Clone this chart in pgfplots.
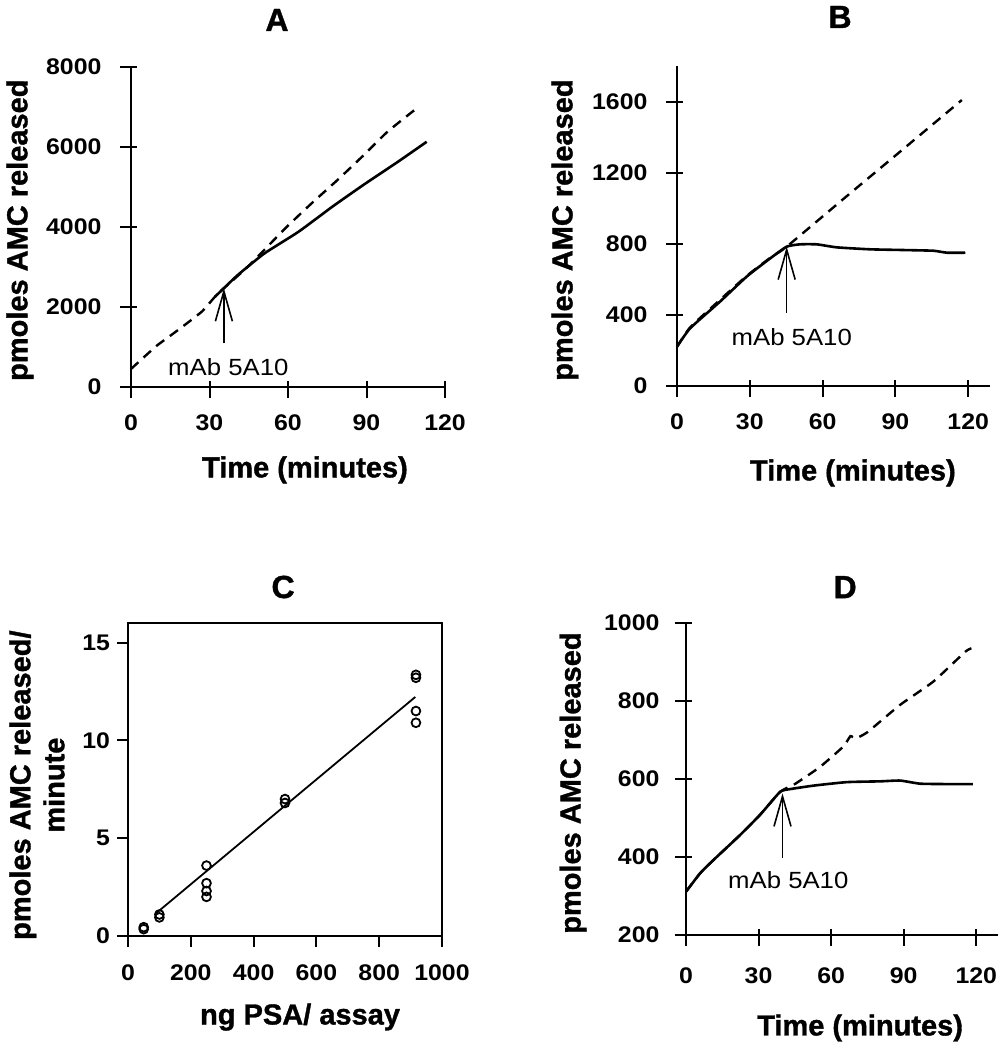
\documentclass[border=0pt]{standalone}
\usepackage{fontspec}
\setmainfont{Liberation Sans}
\newfontfamily\tickf[FakeStretch=1.1]{Liberation Sans}
\newfontfamily\labf[FakeBold=1.2]{Liberation Sans}
\usepackage{pgfplots}
\pgfplotsset{compat=1.18}
\usetikzlibrary{arrows.meta}
\pgfplotsset{
  common/.style={
    scale only axis, anchor=south west,
    tick align=outside, major tick length=5.5pt,
    axis line style={line width=1pt,-},
    tick style={line width=1pt,black},
    scaled ticks=false,
    /pgf/number format/1000 sep={},
    /pgf/number format/assume math mode=true,
    tick label style={font=\tickf\bfseries\fontsize{11.3}{13}\selectfont},
    label style={font=\labf\bfseries\fontsize{14.5}{17}\selectfont, anchor=center},
    title style={font=\labf\bfseries\fontsize{16}{19}\selectfont, anchor=center},
    every axis title shift=0pt,
    clip=false,
  },
  lineaxis/.style={common, axis lines=left,
    every outer x axis line/.append style={-},
    every outer y axis line/.append style={-},
    yticklabel style={xshift=-8.5pt},
    xticklabel style={yshift=-7.5pt}},
}
\tikzset{
  solidc/.style={black, line width=1.3pt, smooth, tension=0.3},
  dashc/.style={black, line width=1.2pt, dash pattern=on 5pt off 3.5pt, smooth, tension=0.3},
  arr/.style={black, line width=0.8pt, -{Straight Barb[length=15pt,width=8.5pt,line width=0.8pt]}},
  mab/.style={font=\tickf\fontsize{11.7}{14}\selectfont, anchor=center},
  tk/.style={black, line width=1pt},
}
\begin{document}
\begin{tikzpicture}
\useasboundingbox (0,0) rectangle (499pt,525pt);
% ---------------- A ----------------
\begin{axis}[lineaxis, at={(65.5pt,331.5pt)}, width=157pt, height=160pt,
  xmin=0, xmax=120, ymin=0, ymax=8000,
  xtick={0,30,60,90,120}, ytick={0,2000,4000,6000,8000},
  title={A}, title style={at={(axis description cs:0.465,1.147)}},
  xlabel={Time (minutes)}, xlabel style={at={(axis description cs:0.554,-0.259)}},
  ylabel={pmoles AMC released}, ylabel style={at={(axis description cs:-0.354,0.49)}},
]
\addplot[solidc] coordinates {(32,2250) (35.5,2470) (41,2810) (51,3340) (64,3880) (77,4510) (89,5060) (102,5630) (113,6130)};
\addplot[dashc] coordinates {(0,450) (4,690) (10,1040) (18,1425) (27,1880) (32,2250) (35.5,2470) (41,2790) (45.5,3060) (51,3430) (59,3970) (69,4590) (79,5180) (89,5800) (98,6380) (110,7010)};
\draw[arr] (axis cs:35.5,1090) -- (axis cs:35.5,2467);
\node[mab] at (axis cs:37.2,508) {mAb 5A10};
\pgfplotsinvokeforeach{0,30,60,90,120}{\draw[tk] (axis cs:#1,0) -- (axis cs:#1,-275);}
\pgfplotsinvokeforeach{0,2000,4000,6000,8000}{\draw[tk] (axis cs:0,#1) -- (axis cs:-4.2,#1);}
\end{axis}
% ---------------- B ----------------
\begin{axis}[lineaxis, at={(338.5pt,332pt)}, width=156.5pt, height=159.75pt,
  xmin=0, xmax=129, ymin=0, ymax=1800,
  xtick={0,30,60,90,120}, ytick={0,400,800,1200,1600},
  title={B}, title style={at={(axis description cs:0.521,1.155)}},
  xlabel={Time (minutes)}, xlabel style={at={(axis description cs:0.562,-0.272)}},
  ylabel={pmoles AMC released}, ylabel style={at={(axis description cs:-0.358,0.488)}},
]
\addplot[solidc] coordinates {(0,221) (5.4,325) (17.7,475) (28.7,616) (38.4,719) (45.2,785) (50.7,798) (57.6,798) (65.9,781) (79.6,770) (93.3,766) (105.7,762) (111.2,751) (118.8,751)};
\addplot[dashc] coordinates {(0,221) (5.4,330) (17.7,485) (28.7,620) (38.4,722) (45.2,785) (70,1070) (95,1355) (117.4,1611)};
\draw[arr] (axis cs:45.2,410) -- (axis cs:45.2,785);
\node[mab] at (axis cs:47.3,278) {mAb 5A10};
\pgfplotsinvokeforeach{0,30,60,90,120}{\draw[tk] (axis cs:#1,0) -- (axis cs:#1,-62);}
\pgfplotsinvokeforeach{0,400,800,1200,1600}{\draw[tk] (axis cs:0,#1) -- (axis cs:-4.5,#1);}
\end{axis}
% ---------------- C ----------------
\begin{axis}[common, at={(64pt,57pt)}, width=157pt, height=156.5pt,
  xmin=0, xmax=1000, ymin=0, ymax=16,
  xtick={0,200,400,600,800,1000}, ytick={0,5,10,15},
  xtick pos=bottom, ytick pos=left,
  xticklabel style={yshift=-5.5pt},
  axis line style={line width=0.8pt},
  title={C}, title style={at={(axis description cs:0.494,1.115)}},
  xlabel={ng PSA/ assay}, xlabel style={at={(axis description cs:0.548,-0.259)}},
  ylabel={pmoles AMC released/\\minute}, ylabel style={align=center, at={(axis description cs:-0.29,0.482)}},
]
\addplot[black, line width=0.9pt] coordinates {(90,1.17) (915,12.22)};
\addplot[only marks, mark=o, mark size=2.2pt, mark options={line width=0.9pt, black}] coordinates {
(50,0.35) (50,0.45) (100,0.95) (100,1.1) (250,2.0) (250,2.3) (250,2.7) (250,3.6)
(500,6.8) (500,7.0) (917,13.2) (917,13.35) (917,11.5) (917,10.9)};
\pgfplotsinvokeforeach{0,200,400,600,800,1000}{\draw[tk, line width=0.8pt] (axis cs:#1,0) -- (axis cs:#1,-0.56);}
\pgfplotsinvokeforeach{0,5,10,15}{\draw[tk, line width=0.8pt] (axis cs:0,#1) -- (axis cs:-35,#1);}
\end{axis}
% ---------------- D ----------------
\begin{axis}[lineaxis, at={(343pt,57.5pt)}, width=156pt, height=156pt,
  xmin=0, xmax=129, ymin=200, ymax=1000,
  xtick={0,30,60,90,120}, ytick={200,400,600,800,1000},
  yticklabel style={xshift=1.5pt},
  xticklabel style={yshift=-2.5pt},
  title={D}, title style={at={(axis description cs:0.51,1.115)}},
  xlabel={Time (minutes)}, xlabel style={at={(axis description cs:0.558,-0.298)}},
  ylabel={pmoles AMC released}, ylabel style={at={(axis description cs:-0.362,0.487)}},
]
\addplot[solidc] coordinates {(0,311) (5.8,358) (11.3,392) (22.3,456) (30.6,508) (38.9,567) (43,574) (52.7,583) (66.5,592) (80.3,594) (88.5,596) (96.8,588) (107.9,587) (118.6,587)};
\addplot[dashc] coordinates {(0,311) (5.8,358) (11.3,392) (22.3,456) (30.6,508) (38.9,567) (45,587) (55.4,631) (65,683) (68,710) (70,704) (75,720) (88.5,790) (102.3,850) (115.4,926) (118,935)};
\draw[arr] (axis cs:39.9,397) -- (axis cs:39.9,563);
\node[mab] at (axis cs:42.3,341) {mAb 5A10};
\pgfplotsinvokeforeach{0,30,60,90,120}{\draw[tk] (axis cs:#1,200) -- (axis cs:#1,171.8);}
\pgfplotsinvokeforeach{200,400,600,800,1000}{\draw[tk] (axis cs:0,#1) -- (axis cs:-4.55,#1);}
\end{axis}
\end{tikzpicture}
\end{document}
